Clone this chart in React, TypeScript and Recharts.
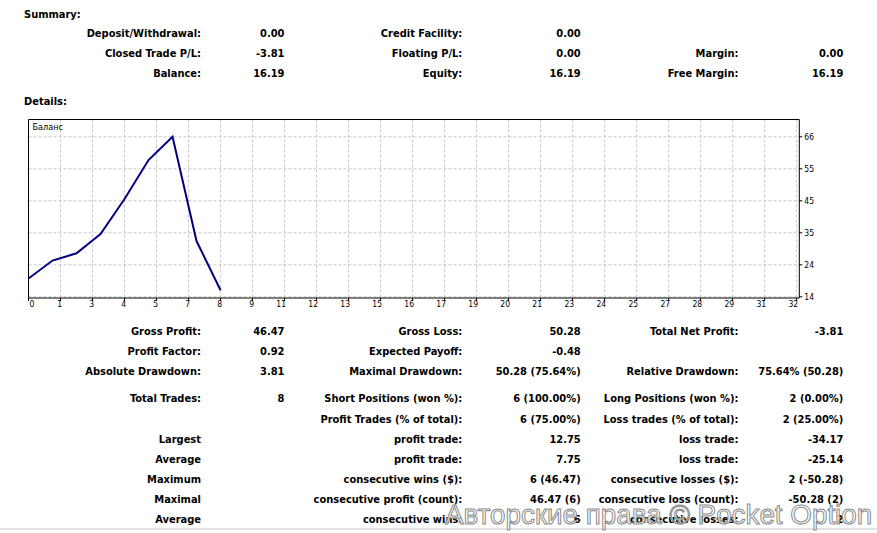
import React from "react";
import {
  LineChart,
  Line,
  XAxis,
  YAxis,
  CartesianGrid,
  ReferenceArea,
  Label,
} from "recharts";

// balance after each trade (trade 0 = opening deposit)
const trades = [0, 1, 2, 3, 4, 5, 6, 7, 8];
const balance = [20, 25.9, 28.3, 34.6, 46.1, 58.85, 66.47, 32.3, 16.19];

const xTickLabels = [
  "0", "1", "3", "4", "5", "7", "8", "9", "11", "12", "13", "15", "16",
  "17", "19", "20", "21", "23", "24", "25", "27", "28", "29", "31", "32",
];
const xTicks = xTickLabels.map((_, k) => (k * 4) / 3);
const xDomain = [0, 32.11];

const yTickValues = [14.02, 24.51, 35.0, 45.49, 55.98, 66.47];
const yTickLabels = ["14", "24", "35", "45", "55", "66"];
const yDomain = [13.63, 72.14];

const summaryRows = [
  ["Deposit/Withdrawal:", "0.00", "Credit Facility:", "0.00", "", ""],
  ["Closed Trade P/L:", "-3.81", "Floating P/L:", "0.00", "Margin:", "0.00"],
  ["Balance:", "16.19", "Equity:", "16.19", "Free Margin:", "16.19"],
];
const summaryRowY = [34, 54, 74];

const detailRows = [
  ["Gross Profit:", "46.47", "Gross Loss:", "50.28", "Total Net Profit:", "-3.81"],
  ["Profit Factor:", "0.92", "Expected Payoff:", "-0.48", "", ""],
  ["Absolute Drawdown:", "3.81", "Maximal Drawdown:", "50.28 (75.64%)", "Relative Drawdown:", "75.64% (50.28)"],
  ["Total Trades:", "8", "Short Positions (won %):", "6 (100.00%)", "Long Positions (won %):", "2 (0.00%)"],
  ["", "", "Profit Trades (% of total):", "6 (75.00%)", "Loss trades (% of total):", "2 (25.00%)"],
  ["Largest", "", "profit trade:", "12.75", "loss trade:", "-34.17"],
  ["Average", "", "profit trade:", "7.75", "loss trade:", "-25.14"],
  ["Maximum", "", "consecutive wins ($):", "6 (46.47)", "consecutive losses ($):", "2 (-50.28)"],
  ["Maximal", "", "consecutive profit (count):", "46.47 (6)", "consecutive loss (count):", "-50.28 (2)"],
  ["Average", "", "consecutive wins:", "6", "consecutive losses:", "2"],
];
const detailRowY = [331.5, 351.5, 371.5, 399, 419.5, 439.5, 459.5, 479.5, 499.5, 519.5];

const colRight = [201, 284.5, 462.3, 580.7, 738.5, 843.3];

const FONT = '"DejaVu Sans Condensed", "DejaVu Sans", sans-serif';

const data = trades.map((t, i) => ({ trade: t, balance: balance[i] }));

function Row({ cells, y }: { cells: string[]; y: number }) {
  return (
    <>
      {cells.map((c, i) =>
        c ? (
          <div
            key={i}
            style={{
              position: "absolute",
              left: 0,
              width: colRight[i],
              top: y - 7,
              lineHeight: "14px",
              textAlign: "right",
              whiteSpace: "nowrap",
            }}
          >
            {c}
          </div>
        ) : null
      )}
    </>
  );
}

function XTick(props: any) {
  const { x, y, index } = props;
  const first = index === 0;
  return (
    <text
      x={first ? x + 1 : x + 1.5}
      y={y}
      dy="0.71em"
      textAnchor={first ? "start" : "end"}
      fontSize={8.5}
      fill="#000"
    >
      {xTickLabels[index]}
    </text>
  );
}

export default function App() {
  return (
    <div
      style={{
        position: "absolute",
        left: 0,
        top: 0,
        width: 877,
        height: 533,
        overflow: "hidden",
        background: "#fff",
        fontFamily: FONT,
        fontSize: 11,
        fontWeight: "bold",
        color: "#000",
      }}
    >
      <div style={{ position: "absolute", left: 24, top: 8, lineHeight: "14px" }}>
        Summary:
      </div>
      {summaryRows.map((r, i) => (
        <Row key={i} cells={r} y={summaryRowY[i]} />
      ))}
      <div style={{ position: "absolute", left: 24, top: 95, lineHeight: "14px" }}>
        Details:
      </div>

      <div style={{ position: "absolute", left: 0, top: 0, fontWeight: "normal" }}>
        <LineChart
          width={877}
          height={320}
          data={data}
          margin={{ top: 119.5, left: 28.5, right: 37.7, bottom: 2 }}
          style={{ fontFamily: FONT }}
        >
          <CartesianGrid
            stroke="#c8c8c8"
            strokeDasharray="3 2"
            verticalValues={xTicks}
            horizontalValues={yTickValues}
          />
          <XAxis
            dataKey="trade"
            type="number"
            domain={xDomain}
            ticks={xTicks}
            interval={0}
            allowDataOverflow
            axisLine={false}
            tickLine={{ stroke: "#000" }}
            tickSize={3}
            tickMargin={0}
            height={20}
            tick={<XTick />}
          />
          <YAxis
            orientation="right"
            type="number"
            domain={yDomain}
            ticks={yTickValues}
            interval={0}
            allowDataOverflow
            axisLine={false}
            tickLine={{ stroke: "#000" }}
            tickSize={3}
            tickMargin={2}
            width={40}
            tick={{ fill: "#000", fontSize: 8.5 }}
            tickFormatter={(v: number) => yTickLabels[yTickValues.indexOf(v)] ?? ""}
          />
          <ReferenceArea
            x1={xDomain[0]}
            x2={xDomain[1]}
            y1={yDomain[0]}
            y2={yDomain[1]}
            fill="none"
            stroke="#000"
            strokeWidth={1}
            ifOverflow="visible"
          >
            <Label value="Баланс" position="insideTopLeft" offset={4} fontSize={9} fill="#000" />
          </ReferenceArea>
          <Line
            type="linear"
            dataKey="balance"
            stroke="#000080"
            strokeWidth={2}
            dot={false}
            isAnimationActive={false}
          />
        </LineChart>
      </div>

      {detailRows.map((r, i) => (
        <Row key={i} cells={r} y={detailRowY[i]} />
      ))}

      <div
        style={{
          position: "absolute",
          left: 0,
          top: 528,
          width: 877,
          height: 2,
          background: "#e2e2e2",
        }}
      />
      <div
        style={{
          position: "absolute",
          left: 445,
          top: 499,
          fontFamily: '"Liberation Sans", Arial, sans-serif',
          fontWeight: "normal",
          fontSize: 27.8,
          lineHeight: "32px",
          whiteSpace: "nowrap",
          color: "rgba(255,255,255,0.75)",
          WebkitTextStroke: "1px #8a8a8a",
        }}
      >
        Авторские права © Pocket Option
      </div>
    </div>
  );
}
